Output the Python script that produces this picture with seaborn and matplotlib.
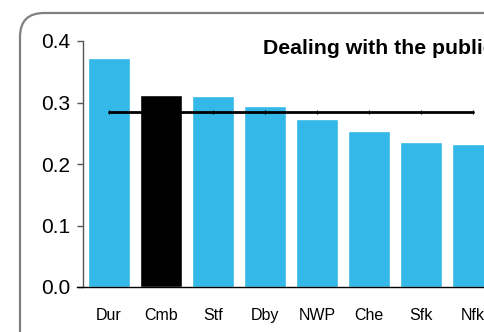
import matplotlib
matplotlib.use("Agg")
import matplotlib.pyplot as plt
import seaborn as sns
from matplotlib.patches import FancyBboxPatch

categories = ["Dur", "Cmb", "Stf", "Dby", "NWP", "Che", "Sfk", "Nfk"]
values = [0.372, 0.313, 0.310, 0.294, 0.273, 0.254, 0.236, 0.232]
bar_colors = ["#33B8E8", "#000000", "#33B8E8", "#33B8E8", "#33B8E8", "#33B8E8", "#33B8E8", "#33B8E8"]
average = 0.285
title = "Dealing with the public"
yticks = [0.0, 0.1, 0.2, 0.3, 0.4]

sns.set_theme(style="white")
plt.rcParams["font.family"] = ["Liberation Sans", "DejaVu Sans"]
plt.rcParams["text.color"] = "black"
plt.rcParams["xtick.color"] = "black"
plt.rcParams["ytick.color"] = "black"

W, H = 484, 332
fig = plt.figure(figsize=(W / 100, H / 100), dpi=100)

# rounded frame (display pixel coords)
frame = FancyBboxPatch((20, -30), 600, 349, boxstyle="round,pad=0,rounding_size=24",
                       transform=None, facecolor="none", edgecolor="#808080", linewidth=1.6)
fig.patches.append(frame)

ax_left, ax_bottom = 83 / W, (H - 287) / H
ax_w, ax_h = 416 / W, (287 - 41) / H
ax = fig.add_axes([ax_left, ax_bottom, ax_w, ax_h])

sns.barplot(x=categories, y=values, hue=categories, palette=bar_colors, legend=False,
            width=0.8, saturation=1, ax=ax)
ax.plot(range(len(categories)), [average] * len(categories), color="black", lw=2,
        marker="|", ms=3, mew=0.8, zorder=5)

ax.set_ylim(0, 0.4)
ax.set_xlim(-0.5, len(categories) - 0.5)
ax.set_yticks(yticks)
ax.set_yticklabels([f"{t:.1f}" for t in yticks], fontsize=15)
ax.tick_params(axis="y", direction="out", length=4.3, width=1, color="#555555", pad=5,
               left=True, labelcolor="black")
ax.tick_params(axis="x", length=0, pad=15, labelsize=11.5, labelcolor="black")
ax.set_xlabel("")
ax.set_ylabel("")
for s in ["top", "right"]:
    ax.spines[s].set_visible(False)
ax.spines["left"].set_color("#555555")
ax.spines["left"].set_linewidth(1)
ax.spines["bottom"].set_color("black")
ax.spines["bottom"].set_linewidth(1)
ax.spines["bottom"].set_bounds(-0.62, len(categories) - 0.5)
ax.spines["bottom"].set_clip_on(False)

fig.text(263 / W, 1 - 48 / H, title, fontsize=15.3, fontweight="bold", va="center", ha="left",
         color="black")

fig.savefig("out.png", dpi=100)
